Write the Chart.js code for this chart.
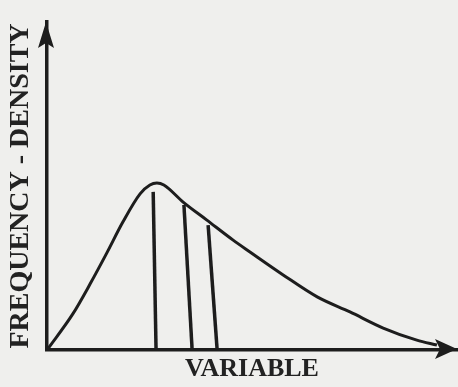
<!DOCTYPE html>
<html>
<head>
<meta charset="utf-8">
<script src="https://cdn.jsdelivr.net/npm/chart.js@4.4.0/dist/chart.umd.min.js"></script>
<style>
html, body { margin: 0; padding: 0; background: #efefed; }
#wrap { width: 458px; height: 387px; }
</style>
</head>
<body>
<div id="wrap"><canvas id="chartSkew"></canvas></div>
<script>
// positively skewed density curve, (variable, density) pairs
var curveX = [0, 6.3, 10.5, 14.6, 18.5, 22.7, 25.1, 26.8, 28.5, 33.2, 39.0, 45.4, 49.5, 57.6, 65.9, 73.9, 82.0, 90.2, 95.1]
var curveY = [0, 11.0, 20.1, 29.6, 39.0, 47.6, 50.3, 50.9, 50.3, 45.1, 39.6, 33.5, 29.9, 22.9, 16.2, 11.6, 6.7, 3.0, 1.5]

// mode, median and mean drop lines (drawn by hand, so foot and top differ a bit)
var markers = ['Mode', 'Median', 'Mean']
var markerFootX = [26.6, 35.4, 41.5]
var markerTopX = [25.9, 33.4, 39.3]
var markerTopY = [48.2, 44.2, 38.1]

var xTitle = 'VARIABLE'
var yTitle = 'FREQUENCY - DENSITY'

var ink = '#1d1d1d'
var labelFont = 'Liberation Serif, DejaVu Serif, serif'

var curve = curveX.map(function (x, i) { return { x: x, y: curveY[i] } })

var datasets = [{
    label: 'Density',
    data: curve,
    showLine: true,
    borderColor: ink,
    borderWidth: 3,
    pointRadius: 0,
    cubicInterpolationMode: 'monotone'
}]

markers.forEach(function (name, i) {
    datasets.push({
        label: name,
        data: [{ x: markerFootX[i], y: 0 }, { x: markerTopX[i], y: markerTopY[i] }],
        showLine: true,
        borderColor: ink,
        borderWidth: 3.5,
        pointRadius: 0
    })
})

// arrow heads on the ends of both axes
const axisArrows = {
    id: 'axisArrows',
    afterDraw(chart) {
        const { ctx, chartArea } = chart
        const { left, right, top, bottom } = chartArea
        ctx.save()
        ctx.fillStyle = ink
        ctx.beginPath()
        ctx.moveTo(left - 1, top)
        ctx.lineTo(left - 9, top + 26)
        ctx.lineTo(left - 1, top + 21)
        ctx.lineTo(left + 7, top + 26)
        ctx.closePath()
        ctx.fill()

        ctx.beginPath()
        ctx.moveTo(right, bottom - 1)
        ctx.lineTo(right - 22, bottom - 11)
        ctx.lineTo(right - 17, bottom - 1)
        ctx.lineTo(right - 22, bottom + 9)
        ctx.closePath()
        ctx.fill()
        ctx.restore()
    }
}

new Chart(document.getElementById('chartSkew').getContext('2d'), {
    type: 'scatter',
    data: { datasets: datasets },
    options: {
        responsive: true,
        maintainAspectRatio: false,
        animation: false,
        layout: { padding: { top: 22, right: 1, left: 0, bottom: 0 } },
        plugins: {
            legend: { display: false },
            tooltip: { enabled: false }
        },
        scales: {
            x: {
                type: 'linear',
                min: 0,
                max: 100,
                grid: { display: false, drawTicks: false },
                ticks: { display: false },
                border: { display: true, color: ink, width: 3.5 },
                title: {
                    display: true,
                    text: xTitle,
                    color: '#222',
                    font: { family: labelFont, size: 26, weight: 'bold', lineHeight: 1.2 },
                    padding: { top: 3.4, bottom: 2.4 }
                }
            },
            y: {
                type: 'linear',
                min: 0,
                max: 100,
                grid: { display: false, drawTicks: false },
                ticks: { display: false },
                border: { display: true, color: ink, width: 3.5 },
                title: {
                    display: true,
                    text: yTitle,
                    color: '#222',
                    font: { family: labelFont, size: 28, weight: 'bold', lineHeight: 1.2 },
                    padding: { top: 4, bottom: 9.4 }
                }
            }
        }
    },
    plugins: [axisArrows]
})
</script>
</body>
</html>
